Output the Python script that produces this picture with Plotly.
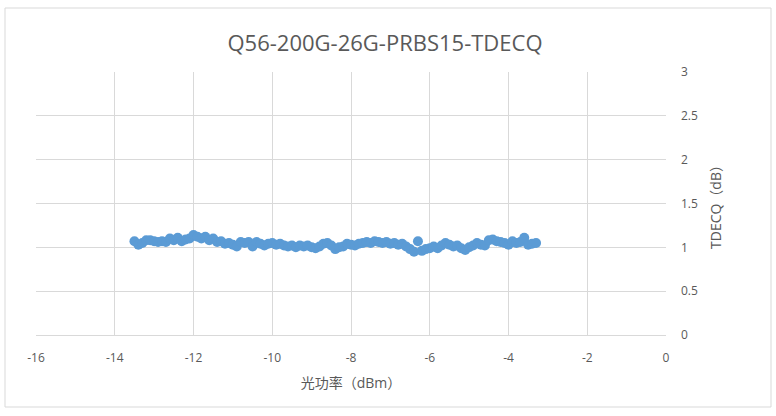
import plotly.graph_objects as go

power_dbm = [-13.5, -13.4, -13.3, -13.2, -13.1, -13.0, -12.9, -12.8, -12.7, -12.6,
             -12.5, -12.4, -12.3, -12.2, -12.1, -12.0, -11.9, -11.8, -11.7, -11.6,
             -11.5, -11.4, -11.3, -11.2, -11.1, -11.0, -10.9, -10.8, -10.7, -10.6,
             -10.5, -10.4, -10.3, -10.2, -10.1, -10.0, -9.9, -9.8, -9.7, -9.6,
             -9.5, -9.4, -9.3, -9.2, -9.1, -9.0, -8.9, -8.8, -8.7, -8.6,
             -8.5, -8.4, -8.3, -8.2, -8.1, -8.0, -7.9, -7.8, -7.7, -7.6,
             -7.5, -7.4, -7.3, -7.2, -7.1, -7.0, -6.9, -6.8, -6.7, -6.6,
             -6.5, -6.4, -6.3, -6.2, -6.1, -6.0, -5.9, -5.8, -5.7, -5.6,
             -5.5, -5.4, -5.3, -5.2, -5.1, -5.0, -4.9, -4.8, -4.7, -4.6,
             -4.5, -4.4, -4.3, -4.2, -4.1, -4.0, -3.9, -3.8, -3.7, -3.6,
             -3.5, -3.4, -3.3]

tdecq_db = [1.07, 1.03, 1.05, 1.08, 1.08, 1.07, 1.06, 1.07, 1.06, 1.10,
            1.08, 1.11, 1.07, 1.09, 1.10, 1.14, 1.12, 1.10, 1.12, 1.08,
            1.10, 1.06, 1.07, 1.04, 1.05, 1.03, 1.01, 1.06, 1.05, 1.06,
            1.01, 1.06, 1.04, 1.02, 1.04, 1.05, 1.03, 1.04, 1.02, 1.01,
            1.02, 1.00, 1.02, 1.01, 1.02, 1.00, 0.99, 1.01, 1.04, 1.05,
            1.02, 0.98, 1.00, 1.01, 1.04, 1.03, 1.02, 1.04, 1.05, 1.06,
            1.05, 1.07, 1.06, 1.05, 1.06, 1.04, 1.05, 1.03, 1.04, 1.01,
            0.98, 0.95, 1.07, 0.96, 0.98, 0.99, 1.01, 0.99, 1.02, 1.05,
            1.03, 1.01, 1.02, 0.99, 0.97, 1.00, 1.02, 1.05, 1.03, 1.02,
            1.08, 1.09, 1.07, 1.06, 1.05, 1.03, 1.07, 1.05, 1.06, 1.11,
            1.03, 1.04, 1.05]

x_tickvals = [-16, -14, -12, -10, -8, -6, -4, -2, 0]
x_ticktext = ["-16", "-14", "-12", "-10", "-8", "-6", "-4", "-2", "0"]
y_tickvals = [0, 0.5, 1, 1.5, 2, 2.5, 3]
y_ticktext = ["0", "0.5", "1", "1.5", "2", "2.5", "3"]

title_text = "Q56-200G-26G-PRBS15-TDECQ"
x_title = "光功率（dBm）"
y_title = "TDECQ（dB）"

FONT = "Open Sans, Noto Sans CJK SC, sans-serif"
GREY = "#595959"
GRID = "#d9d9d9"

fig = go.Figure()
fig.add_trace(go.Scatter(
    x=power_dbm, y=tdecq_db, mode="markers",
    marker=dict(color="#5b9bd5", size=10, line=dict(width=0)),
    showlegend=False,
))

W, H = 776, 416
L, R, T, B = 36, 666, 72, 335
pw, ph = R - L, B - T

fig.update_layout(
    width=W, height=H,
    margin=dict(l=L, r=W - R, t=T, b=H - B),
    paper_bgcolor="white", plot_bgcolor="white",
    font=dict(family=FONT, color=GREY, size=12),
    title=dict(text=title_text, x=(385 - L) / pw, xref="paper", xanchor="center",
               y=1 - 43 / H, yanchor="middle", font=dict(size=22, color=GREY)),
    xaxis=dict(range=[-16, 0], tickvals=x_tickvals, ticktext=x_ticktext,
               showgrid=True, gridcolor=GRID, gridwidth=1, zeroline=False,
               showline=True, linecolor=GRID, ticks="", ticklabelstandoff=12,
               title=dict(text=x_title, font=dict(size=14, color=GREY), standoff=12),
               tickfont=dict(size=12, color=GREY)),
    yaxis=dict(range=[0, 3], tickvals=y_tickvals, ticktext=y_ticktext, side="right",
               showgrid=True, gridcolor=GRID, gridwidth=1, zeroline=False,
               showline=False, ticks="", ticklabelstandoff=14,
               title=dict(text=y_title, font=dict(size=14, color=GREY), standoff=14),
               tickfont=dict(size=12, color=GREY)),
    shapes=[dict(type="rect", xref="paper", yref="paper",
                 x0=(5 - L) / pw, x1=(771 - L) / pw,
                 y0=(B - 407) / ph, y1=(B - 8) / ph,
                 line=dict(color=GRID, width=1), fillcolor="rgba(0,0,0,0)", layer="below")],
)

fig.write_html("out.html", config={"displayModeBar": False},
               post_script="document.body.style.margin='0';document.body.style.overflow='hidden';")
